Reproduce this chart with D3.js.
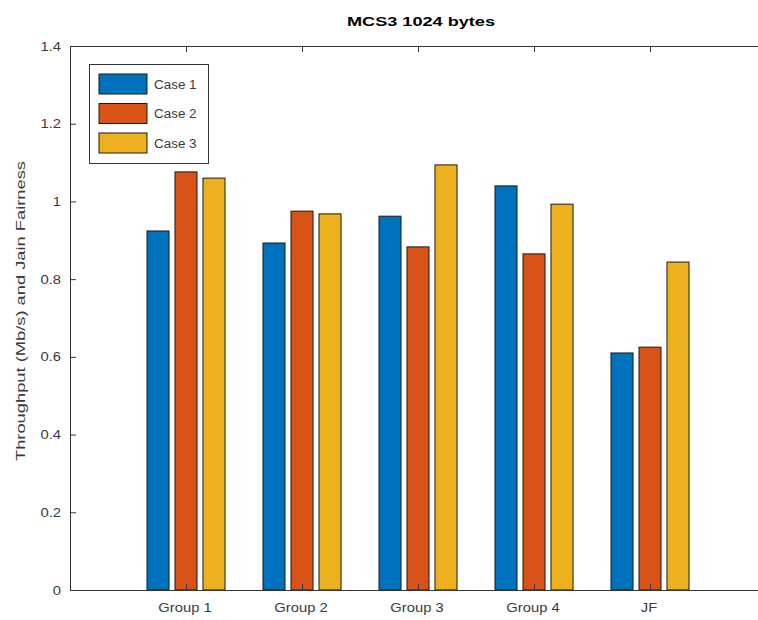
<!DOCTYPE html>
<html><head><meta charset="utf-8">
<script src="https://cdn.jsdelivr.net/npm/d3@7"></script>
<style>body{margin:0;background:#fff;} text{font-family:"Liberation Sans",Arial,sans-serif;}</style>
</head><body>
<svg id="c" width="758" height="620"></svg>
<script>
const categories = ["Group 1","Group 2","Group 3","Group 4","JF"];
const seriesNames = ["Case 1","Case 2","Case 3"];
const case1 = [0.924, 0.893, 0.962, 1.040, 0.610];
const case2 = [1.076, 0.975, 0.883, 0.865, 0.625];
const case3 = [1.060, 0.968, 1.094, 0.993, 0.844];
const yTicks = [0, 0.2, 0.4, 0.6, 0.8, 1, 1.2, 1.4];
const colors = ["#0072BD","#D95319","#EDB120"];
const series = [case1, case2, case3];

const svg = d3.select("#c");
const L = 70, R = 766, T = 46, B = 590;
const x = d3.scaleLinear().domain([0, 6]).range([L, R]);
const y = d3.scaleLinear().domain([0, 1.4]).range([B, T]);
const offsets = [-0.2414, 0, 0.2414];
const bw = 0.19;

function stretch(sel, k) {
  sel.each(function () {
    const w = this.getComputedTextLength();
    d3.select(this).attr("textLength", w * k).attr("lengthAdjust", "spacingAndGlyphs");
  });
}

// bars
series.forEach((vals, j) => {
  svg.append("g").selectAll("rect").data(vals).join("rect")
    .attr("x", (d, i) => x(i + 1 + offsets[j] - bw / 2))
    .attr("width", x(bw) - x(0))
    .attr("y", d => y(d))
    .attr("height", d => y(0) - y(d))
    .attr("fill", colors[j])
    .attr("stroke", "#1a1a1a")
    .attr("stroke-width", 1);
});

// axes
const axCol = "#333";
const txtCol = "#3a3a3a";
const yAxis = d3.axisLeft(y).tickValues(yTicks).tickSizeInner(-6).tickSizeOuter(0).tickPadding(9)
  .tickFormat(d => d3.format("~g")(d));
const gy = svg.append("g").attr("transform", `translate(${L},0)`).call(yAxis);
gy.select(".domain").attr("stroke", axCol);
gy.selectAll(".tick line").attr("stroke", axCol);
gy.selectAll("text").attr("font-size", 12.5).attr("fill", txtCol);
stretch(gy.selectAll("text"), 1.18);

const xAxis = d3.axisBottom(x).tickValues([1,2,3,4,5]).tickSizeInner(-6).tickSizeOuter(0).tickPadding(13)
  .tickFormat((d) => categories[d - 1]);
const gx = svg.append("g").attr("transform", `translate(0,${B})`).call(xAxis);
gx.select(".domain").attr("stroke", axCol);
gx.selectAll(".tick line").attr("stroke", axCol);
gx.selectAll("text").attr("font-size", 12.5).attr("fill", txtCol);
stretch(gx.selectAll("text"), 1.18);
gx.selectAll(".tick text").attr("dx", -1.5);

// top axis line with inward ticks
const xTop = d3.axisTop(x).tickValues([1,2,3,4,5]).tickSizeInner(-6).tickSizeOuter(0).tickFormat("");
const gt = svg.append("g").attr("transform", `translate(0,${T})`).call(xTop);
gt.select(".domain").attr("stroke", axCol);
gt.selectAll(".tick line").attr("stroke", axCol);

// title
svg.append("text").attr("x", 421).attr("y", 26).attr("text-anchor", "middle")
  .attr("font-size", 13).attr("font-weight", "bold").attr("fill", "#000")
  .attr("textLength", 148).attr("lengthAdjust", "spacingAndGlyphs").text("MCS3 1024 bytes");

// y label
svg.append("text").attr("transform", `translate(25,${311}) rotate(-90)`)
  .attr("text-anchor", "middle").attr("font-size", 13.5).attr("fill", txtCol)
  .attr("textLength", 300).attr("lengthAdjust", "spacingAndGlyphs")
  .text("Throughput (Mb/s) and Jain Fairness");

// legend
const lg = svg.append("g");
lg.append("rect").attr("x", 89.5).attr("y", 64.5).attr("width", 119).attr("height", 99)
  .attr("fill", "#fff").attr("stroke", axCol).attr("stroke-width", 1);
seriesNames.forEach((n, j) => {
  const yy = 74 + j * 29.5;
  lg.append("rect").attr("x", 99).attr("y", yy).attr("width", 48).attr("height", 20)
    .attr("fill", colors[j]).attr("stroke", "#1a1a1a");
  lg.append("text").attr("x", 154).attr("y", yy + 14.5).attr("font-size", 12).attr("fill", txtCol).text(n);
});
stretch(lg.selectAll("text"), 1.12);
</script>
</body></html>
